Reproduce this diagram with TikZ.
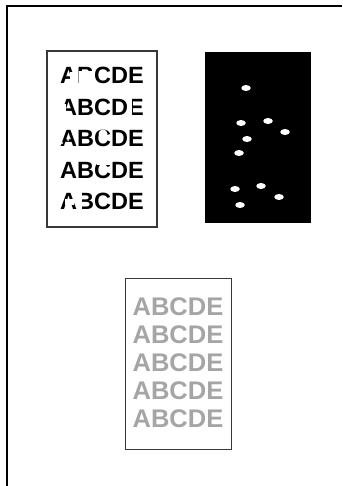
\documentclass[tikz,border=0pt]{standalone}
\usepackage{fontspec}
\setmainfont{Liberation Sans}
\usetikzlibrary{shapes.geometric}
\definecolor{framegray}{RGB}{55, 55, 55}
\definecolor{fadegray}{RGB}{165, 165, 165}

\begin{document}
\begin{tikzpicture}[
  x=1pt, y=-1pt,
  sheet/.style={rectangle, draw=framegray, minimum width=110pt,
                minimum height=176pt, inner sep=0pt},
  row/.style={inner sep=0pt, font=\fontsize{23.5}{23.5}\selectfont\bfseries},
  fadedrow/.style={inner sep=0pt, text=fadegray,
                   font=\fontsize{25.5}{25.5}\selectfont\bfseries},
  spot/.style={ellipse, fill=white, minimum width=9.5pt, minimum height=6pt,
               inner sep=0pt},
  gap/.style={fill=white}
]
\useasboundingbox (0,0) rectangle (342,486);

% page edge
\draw[line width=2pt] (7,486) -- (7,6.5) -- (342,6.5);

% damaged print
\node[sheet, line width=2pt] (damaged) at (101.5,139) {};
\node[row] (d1) at (102,75) {ABCDE};
\node[row] (d2) at (102,107) {ABCDE};
\node[row] (d3) at (102,138) {ABCDE};
\node[row] (d4) at (102,170) {ABCDE};
\node[row] (d5) at (102,201) {ABCDE};
\fill[gap] (70,72) rectangle (78,84);
\fill[gap] (78.5,71) rectangle (95,84);
\fill[gap] (59,104) rectangle (66,116);
\fill[gap] (127.3,98) rectangle (131.5,116);
\fill[gap] (103,134) circle (4.5);
\fill[gap] (64,133) circle (1.2) (68,140) circle (1) (62,143) circle (1.2);
\fill[gap] (97,160) rectangle (110,165.5);
\fill[gap] (65,198.5) rectangle (73.5,205);
\fill[gap] (77.5,192) rectangle (81.5,210);

% black page with spots
\node[rectangle, fill=black, minimum width=106pt, minimum height=171pt,
      inner sep=0pt] (dark) at (258,137.5) {};
\foreach \sx/\sy [count=\i] in {246/88, 241/123, 268/121, 285/132, 247/139,
                                 239/153, 235/189, 261/186, 279/197, 240/205}
  \node[spot] (s\i) at (\sx,\sy) {};

% faint print
\node[sheet, line width=0.9pt, minimum width=106pt, minimum height=171pt]
     (faint) at (178,363.5) {};
\foreach \fy [count=\i] in {307, 335, 363, 391, 419}
  \node[fadedrow] (f\i) at (178,\fy) {ABCDE};

\end{tikzpicture}
\end{document}
